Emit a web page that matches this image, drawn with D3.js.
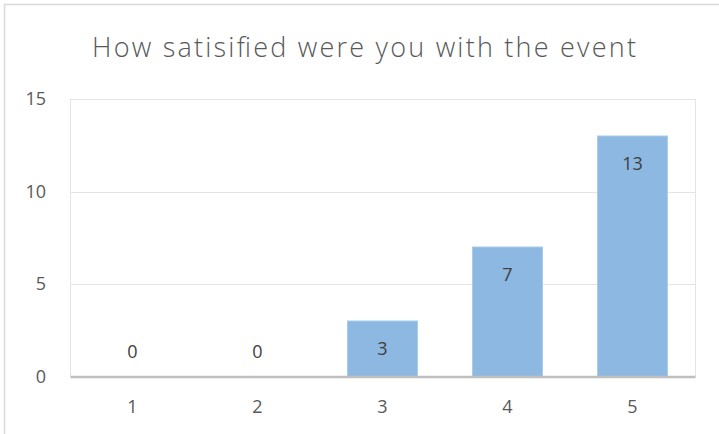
<!DOCTYPE html>
<meta charset="utf-8">
<style>
  body { margin: 0; background: #fff; }
  text { font-family: "Open Sans", "Noto Sans", sans-serif; }
  .grid line { stroke: #e4e4e4; stroke-width: 1; }
</style>
<body>
<script src="https://d3js.org/d3.v7.min.js"></script>
<script>

const width = 719;
const height = 434;

const title = "How satisified were you with the event";
const categories = ["1", "2", "3", "4", "5"];
const counts = [0, 0, 3, 7, 13];
const yTicks = [0, 5, 10, 15];

const plot = {left: 70, right: 695, top: 99, bottom: 376.5};

const svg = d3.select("body")
              .append("svg")
              .attr("width", width)
              .attr("height", height)
              .style("display", "block");

// chart frame
svg.append("rect")
   .attr("x", 4.5)
   .attr("y", 4.5)
   .attr("width", width + 10)
   .attr("height", height + 10)
   .attr("fill", "#fff")
   .attr("stroke", "#d9d9d9")
   .attr("stroke-width", 1.5);

svg.append("text")
   .attr("x", 92)
   .attr("y", 57)
   .attr("font-size", 27)
   .attr("font-weight", 300)
   .attr("textLength", 544)
   .attr("lengthAdjust", "spacing")
   .attr("fill", "#595959")
   .text(title);

const x = d3.scaleBand()
            .domain(categories)
            .range([plot.left, plot.right])
            .paddingInner(0.44)
            .paddingOuter(0.22);

const y = d3.scaleLinear()
            .domain([0, 15])
            .range([plot.bottom, plot.top]);

// gridlines + plot border
const grid = svg.append("g").attr("class", "grid");
grid.selectAll("line.h")
    .data(yTicks.slice(1))
    .enter().append("line")
    .attr("class", "h")
    .attr("x1", plot.left)
    .attr("x2", plot.right)
    .attr("y1", d => Math.round(y(d)) + 0.5)
    .attr("y2", d => Math.round(y(d)) + 0.5);
grid.selectAll("line.v")
    .data([plot.left, plot.right])
    .enter().append("line")
    .attr("class", "v")
    .attr("x1", d => d + 0.5)
    .attr("x2", d => d + 0.5)
    .attr("y1", plot.top)
    .attr("y2", plot.bottom);

// y axis labels
const yAxis = svg.append("g")
                 .attr("transform", `translate(${plot.left - 24},0)`)
                 .call(d3.axisLeft(y).tickValues(yTicks).tickSize(0).tickPadding(0));
yAxis.select(".domain").remove();
yAxis.selectAll("text")
     .attr("font-size", 18)
     .attr("fill", "#595959")
     .style("font-family", "'Open Sans', sans-serif");

// bars
svg.append("g")
   .selectAll("rect")
   .data(counts)
   .enter().append("rect")
   .attr("x", (d, i) => x(categories[i]))
   .attr("y", d => y(d))
   .attr("width", x.bandwidth())
   .attr("height", d => y(0) - y(d))
   .attr("fill", "#8cb8e1")
   .attr("stroke", "#a9cbec")
   .attr("stroke-width", 1);

// x axis
const xAxis = svg.append("g")
                 .attr("transform", `translate(0,${plot.bottom})`)
                 .call(d3.axisBottom(x).tickSize(0).tickPadding(23.5));
xAxis.select(".domain")
     .attr("stroke", "#bfbfbf")
     .attr("stroke-width", 2.5);
xAxis.selectAll("text")
     .attr("font-size", 18)
     .attr("fill", "#595959")
     .style("font-family", "'Open Sans', sans-serif");

// data labels
svg.append("g")
   .selectAll("text")
   .data(counts)
   .enter().append("text")
   .attr("x", (d, i) => x(categories[i]) + x.bandwidth() / 2)
   .attr("y", d => d > 0 ? y(d) + 34 : y(0) - 18.5)
   .attr("text-anchor", "middle")
   .attr("font-size", 18)
   .attr("fill", "#404040")
   .text(d => d);
</script>
</body>
